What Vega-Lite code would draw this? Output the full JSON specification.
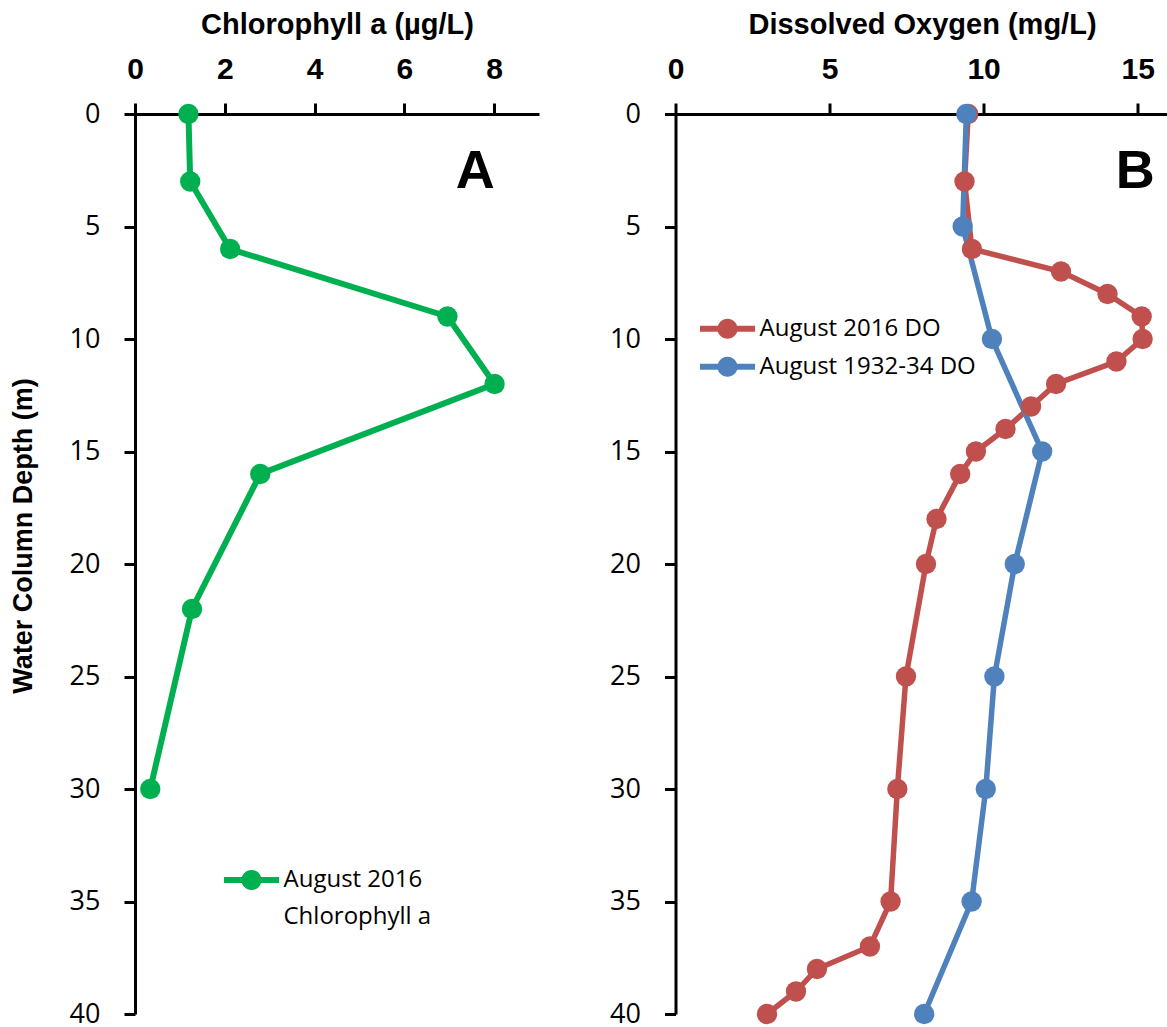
{
  "$schema": "https://vega.github.io/schema/vega-lite/v6.json",
  "autosize": {"type": "pad"},
  "padding": {"left": 9, "top": 10, "right": 0, "bottom": 0},
  "bounds": "flush",
  "spacing": 136.5,
  "background": "white",
  "config": {
    "view": {"stroke": null},
    "axis": {
      "domainColor": "#000", "domainWidth": 3, "tickColor": "#000", "tickWidth": 3, "tickSize": 11,
      "grid": false, "labelColor": "#000", "titleColor": "#000", "labelFlush": false
    },
    "axisX": {
      "labelFont": "Liberation Sans", "labelFontWeight": "bold", "labelFontSize": 30,
      "labelBaseline": "alphabetic", "labelPadding": 25,
      "titleFont": "Liberation Sans", "titleFontWeight": "bold", "titleFontSize": 29,
      "titleBaseline": "alphabetic", "titleY": -81
    },
    "axisY": {
      "labelFont": "Open Sans", "labelFontSize": 27, "labelPadding": 24,
      "titleFont": "Liberation Sans", "titleFontWeight": "bold", "titleFontSize": 27,
      "titleAngle": 270, "titleX": -111.5, "titleY": 421.5, "titleAlign": "center", "titleBaseline": "middle"
    },
    "legend": {
      "orient": "none", "title": null, "padding": 0, "rowPadding": 7,
      "symbolType": "M-1.45,-0.16H-0.3V0.16H-1.45Z M0.3,-0.16H1.45V0.16H0.3Z M0.53,0A0.53,0.53,0,1,1,-0.53,0A0.53,0.53,0,1,1,0.53,0Z",
      "symbolSize": 1444, "symbolStrokeWidth": 0, "symbolOpacity": 1, "labelOffset": 13,
      "labelFont": "Open Sans", "labelFontSize": 24, "labelColor": "#000", "labelLimit": 400
    }
  },
  "resolve": {"scale": {"color": "independent", "x": "independent", "y": "independent"}},
  "hconcat": [
    {
      "width": 404, "height": 900,
      "data": {"values": [
        {"depth": 0, "chl": 1.19, "series": "August 2016 Chlorophyll a"},
        {"depth": 3, "chl": 1.23, "series": "August 2016 Chlorophyll a"},
        {"depth": 6, "chl": 2.12, "series": "August 2016 Chlorophyll a"},
        {"depth": 9, "chl": 6.96, "series": "August 2016 Chlorophyll a"},
        {"depth": 12, "chl": 8.01, "series": "August 2016 Chlorophyll a"},
        {"depth": 16, "chl": 2.79, "series": "August 2016 Chlorophyll a"},
        {"depth": 22, "chl": 1.27, "series": "August 2016 Chlorophyll a"},
        {"depth": 30, "chl": 0.34, "series": "August 2016 Chlorophyll a"}
      ]},
      "layer": [
        {
          "mark": {"type": "line", "strokeWidth": 6, "color": "#00B050"},
          "encoding": {
            "x": {"field": "chl", "type": "quantitative", "scale": {"domain": [0, 9], "nice": false},
                  "axis": {"orient": "top", "values": [0, 2, 4, 6, 8], "title": "Chlorophyll a (µg/L)"}},
            "y": {"field": "depth", "type": "quantitative", "scale": {"domain": [0, 40], "reverse": true, "nice": false},
                  "axis": {"values": [0, 5, 10, 15, 20, 25, 30, 35, 40], "title": "Water Column Depth (m)"}},
            "order": {"field": "depth"}
          }
        },
        {
          "mark": {"type": "circle", "size": 415, "opacity": 1},
          "encoding": {
            "x": {"field": "chl", "type": "quantitative"},
            "y": {"field": "depth", "type": "quantitative"},
            "color": {"field": "series", "type": "nominal", "scale": {"range": ["#00B050"]},
                      "legend": {"legendX": 97.5, "legendY": 747, "labelExpr": "['August 2016', 'Chlorophyll a']",
                                 "encode": {"labels": {"update": {"lineHeight": {"value": 37}}}}}}
          }
        },
        {
          "data": {"values": [{"panel": "A"}]},
          "mark": {"type": "text", "font": "Liberation Sans", "fontWeight": "bold", "fontSize": 54, "align": "center", "baseline": "middle", "color": "#000"},
          "encoding": {
            "x": {"datum": 7.58, "type": "quantitative"},
            "y": {"datum": 2.56, "type": "quantitative"},
            "text": {"field": "panel"}
          }
        }
      ]
    },
    {
      "width": 493, "height": 900,
      "data": {"values": [
        {"depth": 0, "do": 9.5, "series": "August 2016 DO"},
        {"depth": 3, "do": 9.38, "series": "August 2016 DO"},
        {"depth": 6, "do": 9.62, "series": "August 2016 DO"},
        {"depth": 7, "do": 12.51, "series": "August 2016 DO"},
        {"depth": 8, "do": 14.02, "series": "August 2016 DO"},
        {"depth": 9, "do": 15.13, "series": "August 2016 DO"},
        {"depth": 10, "do": 15.16, "series": "August 2016 DO"},
        {"depth": 11, "do": 14.31, "series": "August 2016 DO"},
        {"depth": 12, "do": 12.35, "series": "August 2016 DO"},
        {"depth": 13, "do": 11.54, "series": "August 2016 DO"},
        {"depth": 14, "do": 10.71, "series": "August 2016 DO"},
        {"depth": 15, "do": 9.75, "series": "August 2016 DO"},
        {"depth": 16, "do": 9.24, "series": "August 2016 DO"},
        {"depth": 18, "do": 8.47, "series": "August 2016 DO"},
        {"depth": 20, "do": 8.13, "series": "August 2016 DO"},
        {"depth": 25, "do": 7.48, "series": "August 2016 DO"},
        {"depth": 30, "do": 7.2, "series": "August 2016 DO"},
        {"depth": 35, "do": 6.98, "series": "August 2016 DO"},
        {"depth": 37, "do": 6.31, "series": "August 2016 DO"},
        {"depth": 38, "do": 4.59, "series": "August 2016 DO"},
        {"depth": 39, "do": 3.91, "series": "August 2016 DO"},
        {"depth": 40, "do": 2.97, "series": "August 2016 DO"},
        {"depth": 0, "do": 9.44, "series": "August 1932-34 DO"},
        {"depth": 5, "do": 9.32, "series": "August 1932-34 DO"},
        {"depth": 10, "do": 10.27, "series": "August 1932-34 DO"},
        {"depth": 15, "do": 11.9, "series": "August 1932-34 DO"},
        {"depth": 20, "do": 11.01, "series": "August 1932-34 DO"},
        {"depth": 25, "do": 10.35, "series": "August 1932-34 DO"},
        {"depth": 30, "do": 10.07, "series": "August 1932-34 DO"},
        {"depth": 35, "do": 9.61, "series": "August 1932-34 DO"},
        {"depth": 40, "do": 8.07, "series": "August 1932-34 DO"}
      ]},
      "layer": [
        {
          "transform": [{"filter": "datum.series === 'August 2016 DO'"}],
          "mark": {"type": "line", "strokeWidth": 5.5, "color": "#C0504D"},
          "encoding": {
            "x": {"field": "do", "type": "quantitative", "scale": {"domain": [0, 16], "nice": false},
                  "axis": {"orient": "top", "values": [0, 5, 10, 15], "title": "Dissolved Oxygen (mg/L)"}},
            "y": {"field": "depth", "type": "quantitative", "scale": {"domain": [0, 40], "reverse": true, "nice": false},
                  "axis": {"values": [0, 5, 10, 15, 20, 25, 30, 35, 40], "title": null}},
            "order": {"field": "depth"}
          }
        },
        {
          "transform": [{"filter": "datum.series === 'August 1932-34 DO'"}],
          "mark": {"type": "line", "strokeWidth": 5.5, "color": "#4F81BD"},
          "encoding": {
            "x": {"field": "do", "type": "quantitative"},
            "y": {"field": "depth", "type": "quantitative"},
            "order": {"field": "depth"}
          }
        },
        {
          "mark": {"type": "circle", "size": 415, "opacity": 1},
          "encoding": {
            "x": {"field": "do", "type": "quantitative"},
            "y": {"field": "depth", "type": "quantitative"},
            "color": {"field": "series", "type": "nominal",
                      "scale": {"domain": ["August 2016 DO", "August 1932-34 DO"], "range": ["#C0504D", "#4F81BD"]},
                      "legend": {"legendX": 33, "legendY": 195.7}}
          }
        },
        {
          "data": {"values": [{"panel": "B"}]},
          "mark": {"type": "text", "font": "Liberation Sans", "fontWeight": "bold", "fontSize": 54, "align": "center", "baseline": "middle", "color": "#000"},
          "encoding": {
            "x": {"datum": 14.92, "type": "quantitative"},
            "y": {"datum": 2.56, "type": "quantitative"},
            "text": {"field": "panel"}
          }
        }
      ]
    }
  ]
}
